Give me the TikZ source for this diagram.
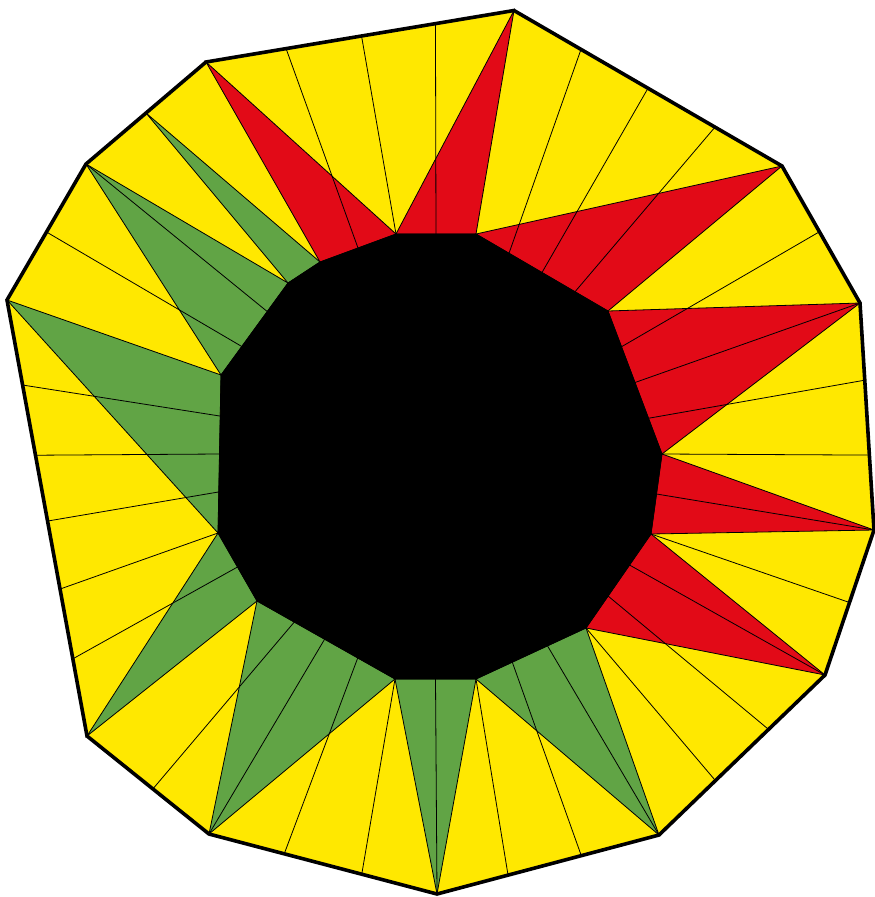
\documentclass[tikz,border=0pt]{standalone}
\usepackage{tikz}
\usetikzlibrary{calc}
\definecolor{sunyellow}{HTML}{FFE800}
\definecolor{sunred}{HTML}{E20A17}
\definecolor{sungreen}{HTML}{61A445}
\tikzset{
  ring/.style   = {fill=sunyellow},
  rim/.style    = {draw=black, line width=3.6pt, line join=miter},
  core/.style   = {fill=black, draw=black, line width=0.6pt},
  redtri/.style = {fill=sunred, draw=black, line width=0.8pt},
  grntri/.style = {fill=sungreen, draw=black, line width=0.8pt},
  ray/.style    = {draw=black, line width=0.8pt},
}
\begin{document}
\begin{tikzpicture}[x=1pt, y=-1pt]
  \useasboundingbox (0,0) rectangle (875,897);

  % outer polygon, clockwise from the top
  \coordinate (o1)  at (514,10.5);
  \coordinate (o2)  at (782,166);
  \coordinate (o3)  at (860,303);
  \coordinate (o4)  at (874,530);
  \coordinate (o5)  at (825,675);
  \coordinate (o6)  at (659,835);
  \coordinate (o7)  at (437,894);
  \coordinate (o8)  at (209,834);
  \coordinate (o9)  at (87,736);
  \coordinate (o10) at (7,300);
  \coordinate (o11) at (86,164);
  \coordinate (o13) at (206,62);
  \coordinate (o12) at ($(o11)!0.5!(o13)$);

  % inner polygon
  \coordinate (i1)  at (476,234);
  \coordinate (i2)  at (608,311);
  \coordinate (i3)  at (662,454);
  \coordinate (i4)  at (651,534);
  \coordinate (i5)  at (586,628);
  \coordinate (i6)  at (476,679);
  \coordinate (i7)  at (395,679);
  \coordinate (i8)  at (257,601);
  \coordinate (i9)  at (218,533);
  \coordinate (i10) at (221,375);
  \coordinate (i11) at (288,283);
  \coordinate (i12) at (320,262);
  \coordinate (i13) at (396,234);

  \path[ring] (o1) -- (o2) -- (o3) -- (o4) -- (o5) -- (o6) -- (o7) -- (o8)
    -- (o9) -- (o10) -- (o11) -- (o12) -- (o13) -- cycle;

  \foreach \k/\j/\tone in {1/13/redtri, 2/1/redtri, 3/2/redtri, 4/3/redtri,
      5/4/redtri, 6/5/grntri, 7/6/grntri, 8/7/grntri, 9/8/grntri,
      10/9/grntri, 11/10/grntri, 12/11/grntri, 13/12/redtri}
    \path[\tone] (i\j) -- (o\k) -- (i\k) -- cycle;

  % rays: outer edge a-b at s  to  inner edge c-d at t
  \foreach \a/\b/\s/\c/\d/\t in {
      13/1/0.26/12/13/0.5, 13/1/0.505/13/1/0, 13/1/0.745/13/1/0.5,
      1/2/0.25/1/2/0.25, 1/2/0.5/1/2/0.5, 1/2/0.75/1/2/0.75,
      2/3/0.48/2/3/0.25, 3/4/0/2/3/0.5,
      3/4/0.34/2/3/0.75, 3/4/0.67/3/4/0,
      4/5/0/3/4/0.5, 4/5/0.5/4/5/0,
      5/6/0/4/5/0.33, 5/6/0.34/4/5/0.66, 5/6/0.66/5/6/0,
      6/7/0/5/6/0.35, 6/7/0.35/5/6/0.67, 6/7/0.68/6/7/0,
      7/8/0/6/7/0.5, 7/8/0.33/7/8/0, 7/8/0.67/7/8/0.27,
      8/9/0/7/8/0.51, 8/9/0.46/7/8/0.73,
      9/10/0.177/8/9/0.5, 9/10/0.337/9/10/0, 9/10/0.493/9/10/0.26,
      9/10/0.644/9/10/0.5, 9/10/0.805/9/10/0.74,
      10/11/0.5/10/11/0.31, 11/12/0/10/11/0.69}
    \draw[ray] ($(o\a)!\s!(o\b)$) -- ($(i\c)!\t!(i\d)$);

  \path[core] (i1) -- (i2) -- (i3) -- (i4) -- (i5) -- (i6) -- (i7) -- (i8)
    -- (i9) -- (i10) -- (i11) -- (i12) -- (i13) -- cycle;

  \path[rim] (o1) -- (o2) -- (o3) -- (o4) -- (o5) -- (o6) -- (o7) -- (o8)
    -- (o9) -- (o10) -- (o11) -- (o12) -- (o13) -- cycle;
\end{tikzpicture}
\end{document}
